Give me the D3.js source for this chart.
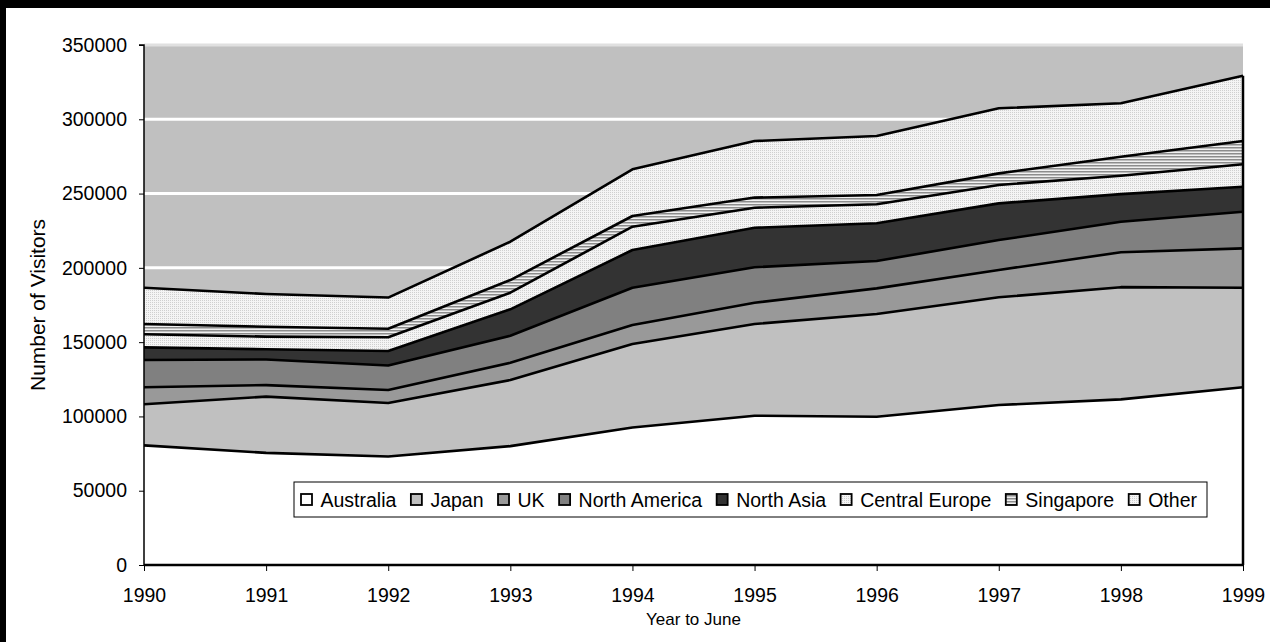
<!DOCTYPE html>
<html>
<head>
<meta charset="utf-8">
<script src="https://cdn.jsdelivr.net/npm/d3@7"></script>
<style>
  html, body { margin: 0; padding: 0; background: #ffffff; }
  svg { display: block; font-family: "Liberation Sans", Arial, sans-serif; }
</style>
</head>
<body>
<svg id="chart" width="1270" height="642"></svg>
<script>
// Visitor arrivals by source, year to June
const years = [1990, 1991, 1992, 1993, 1994, 1995, 1996, 1997, 1998, 1999];
const seriesNames = ["Australia", "Japan", "UK", "North America", "North Asia", "Central Europe", "Singapore", "Other"];

const australia     = [80500, 75500, 73000, 80000, 92500, 100500, 99800, 107700, 111500, 119600];
const japan         = [27700, 37800, 36000, 44500, 56200, 61700, 69100, 72500, 75500, 67000];
const uk            = [11400, 7800, 8800, 11600, 12800, 14300, 17300, 18400, 23500, 26500];
const northAmerica  = [18400, 17200, 16500, 18200, 25100, 23900, 18400, 20100, 20500, 24700];
const northAsia     = [8500, 6900, 9700, 17800, 25400, 26600, 25400, 24700, 18600, 16800];
const centralEurope = [8800, 8500, 9300, 11200, 15700, 13500, 12800, 12400, 12400, 15100];
const singapore     = [6900, 6700, 5700, 8500, 7200, 6800, 6200, 7800, 12800, 15700];
const other         = [24400, 22000, 21000, 25800, 31400, 38100, 39700, 43800, 36000, 43900];

const yTicks = [0, 50000, 100000, 150000, 200000, 250000, 300000, 350000];

const seriesValues = [australia, japan, uk, northAmerica, northAsia, centralEurope, singapore, other];

// Table for d3.stack
const table = years.map((yr, i) => {
  const row = { year: yr };
  seriesNames.forEach((n, k) => { row[n] = seriesValues[k][i]; });
  return row;
});

const svg = d3.select("#chart");
const FONT = "'Liberation Sans', Arial, sans-serif";

// Pattern fills
const defs = svg.append("defs");
function dotPattern(id) {
  const p = defs.append("pattern").attr("id", id).attr("patternUnits", "userSpaceOnUse")
    .attr("width", 2).attr("height", 2);
  p.append("rect").attr("width", 2).attr("height", 2).attr("fill", "#f4f4f4");
  p.append("rect").attr("x", 0).attr("y", 0).attr("width", 1).attr("height", 1).attr("fill", "#cfcfcf");
}
dotPattern("dotsCE");
dotPattern("dotsOther");
const stripes = defs.append("pattern").attr("id", "stripes").attr("patternUnits", "userSpaceOnUse")
  .attr("width", 4).attr("height", 3);
stripes.append("rect").attr("width", 4).attr("height", 3).attr("fill", "#f0f0f0");
stripes.append("rect").attr("y", 0).attr("width", 4).attr("height", 1.5).attr("fill", "#8c8c8c");

const fills = {
  "Australia": "#ffffff",
  "Japan": "#c0c0c0",
  "UK": "#999999",
  "North America": "#808080",
  "North Asia": "#333333",
  "Central Europe": "url(#dotsCE)",
  "Singapore": "url(#stripes)",
  "Other": "url(#dotsOther)"
};

// Outer frame bands
svg.append("rect").attr("x", 0).attr("y", 0).attr("width", 1270).attr("height", 8).attr("fill", "#000");
svg.append("rect").attr("x", 0).attr("y", 0).attr("width", 6).attr("height", 642).attr("fill", "#000");

const plot = { left: 144, right: 1243, top: 45, bottom: 565 };

const x = d3.scaleLinear().domain([years[0], years[years.length - 1]]).range([plot.left, plot.right]);
const y = d3.scaleLinear().domain([0, 350000]).range([plot.bottom, plot.top]);

// Plot background
svg.append("rect")
  .attr("x", plot.left).attr("y", plot.top)
  .attr("width", plot.right - plot.left).attr("height", plot.bottom - plot.top)
  .attr("fill", "#c0c0c0");

// Gridlines
svg.append("g").selectAll("line").data(yTicks.filter(t => t > 0)).join("line")
  .attr("x1", plot.left).attr("x2", plot.right)
  .attr("y1", d => y(d)).attr("y2", d => y(d))
  .attr("stroke", d => d === 350000 ? "#e0e0e0" : "#ffffff").attr("stroke-width", 3);

// Stacked areas
const stack = d3.stack().keys(seriesNames);
const layers = stack(table);

const area = d3.area()
  .x(d => x(d.data.year))
  .y0(d => y(d[0]))
  .y1(d => y(d[1]));

const topLine = d3.line()
  .x(d => x(d.data.year))
  .y(d => y(d[1]));

svg.append("g").selectAll("path").data(layers).join("path")
  .attr("d", area)
  .attr("fill", d => fills[d.key]);

svg.append("g").selectAll("path").data(layers).join("path")
  .attr("d", topLine)
  .attr("fill", "none")
  .attr("stroke", "#000")
  .attr("stroke-width", 2.6)
  .attr("stroke-linejoin", "round");

// Axes
const yAxis = d3.axisLeft(y).tickValues(yTicks).tickSize(5).tickPadding(12).tickFormat(d3.format("d"));
const gy = svg.append("g").attr("transform", `translate(${plot.left},0)`).call(yAxis);
gy.select(".domain").attr("stroke", "#000").attr("stroke-width", 1.5).attr("d", `M-5,${plot.top}H0V${plot.bottom}`);
gy.selectAll(".tick line").attr("stroke", "#000");
gy.selectAll(".tick text").attr("font-size", 19.5).attr("fill", "#000").attr("font-family", FONT);

const xAxis = d3.axisBottom(x).tickValues(years).tickSize(6).tickPadding(17).tickFormat(d3.format("d"));
const gx = svg.append("g").attr("transform", `translate(0,${plot.bottom})`).call(xAxis);
gx.select(".domain").attr("stroke", "#000").attr("stroke-width", 2.5).attr("d", `M${plot.left},0H${plot.right}`);
gx.selectAll(".tick line").attr("stroke", "#000");
gx.selectAll(".tick text").attr("font-size", 19.5).attr("fill", "#000").attr("font-family", FONT);

// Right edge line of the stacked area
svg.append("line")
  .attr("x1", plot.right).attr("x2", plot.right)
  .attr("y1", y(d3.sum(seriesValues, s => s[s.length - 1]))).attr("y2", plot.bottom)
  .attr("stroke", "#000").attr("stroke-width", 2.5);

// Axis titles
svg.append("text").attr("x", (plot.left + plot.right) / 2).attr("y", 625)
  .attr("text-anchor", "middle").attr("font-size", 17).text("Year to June");
svg.append("text").attr("transform", `translate(45,${(plot.top + plot.bottom) / 2}) rotate(-90)`)
  .attr("text-anchor", "middle").attr("font-size", 19.5)
  .attr("textLength", 172).attr("lengthAdjust", "spacingAndGlyphs")
  .text("Number of Visitors");

// Legend
const legend = svg.append("g");
legend.append("rect").attr("x", 294).attr("y", 482).attr("width", 913).attr("height", 35)
  .attr("fill", "#fff").attr("stroke", "#000").attr("stroke-width", 1);
let lx = 301;
seriesNames.forEach(n => {
  const g = legend.append("g");
  g.append("rect").attr("x", lx).attr("y", 494).attr("width", 11).attr("height", 11)
    .attr("fill", fills[n]).attr("stroke", "#000").attr("stroke-width", 1.8);
  const t = g.append("text").attr("x", lx + 19.5).attr("y", 507).attr("font-size", 19.5).text(n);
  lx += 19.5 + t.node().getComputedTextLength() + 14.5;
});
</script>
</body>
</html>
